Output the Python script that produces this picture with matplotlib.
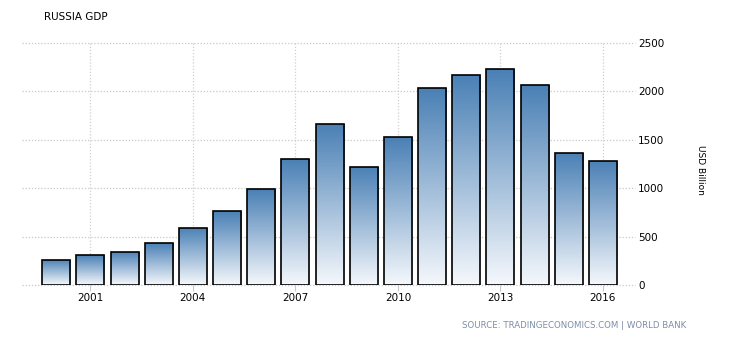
import numpy as np
import matplotlib.pyplot as plt
from matplotlib.colors import LinearSegmentedColormap
import matplotlib.transforms as mtransforms

years = np.arange(2000, 2017)
gdp = [260, 307, 345, 430, 591, 764, 990, 1300, 1661, 1223, 1525, 2032, 2170, 2231, 2064, 1366, 1283]
xticks = [2001, 2004, 2007, 2010, 2013, 2016]
yticks = [0, 500, 1000, 1500, 2000, 2500]

fig = plt.figure(figsize=(7.3, 3.4), dpi=100)
ax = fig.add_axes([22/730, 55/340, 598/730, 242/340])

cmap = LinearSegmentedColormap.from_list('grad', ['#f5f8fc', '#4a80b5'])
grad = np.linspace(0, 1, 256).reshape(-1, 1)

bars = ax.bar(years, gdp, width=0.82, facecolor='none', edgecolor='black', linewidth=1.2, zorder=3)
for b in bars:
    b.set_joinstyle('miter')
    x0, w, h = b.get_x(), b.get_width(), b.get_height()
    im = ax.imshow(grad, extent=[x0, x0 + w, 0, h], origin='lower', cmap=cmap,
                   aspect='auto', zorder=2)
    im.set_clip_path(b)

ax.set_xlim(1999.0, 2016.5)
ax.set_ylim(0, 2500)
for s in ax.spines.values():
    s.set_visible(False)

# dotted grid, horizontal lines run out to the right-side labels
trans = mtransforms.blended_transform_factory(ax.transAxes, ax.transData)
for y in yticks:
    ax.plot([0, 1.025], [y, y], transform=trans, color='#c8c8c8', lw=0.9,
            ls=(0, (1, 1.5)), clip_on=False, zorder=1)
for x in xticks:
    ax.axvline(x, color='#d0d0d0', lw=0.9, ls=(0, (1, 1.5)), zorder=1)

ax.set_xticks(xticks)
ax.tick_params(axis='x', length=4, color='#c8c8c8', labelsize=7.5, pad=2)
ax.yaxis.tick_right()
ax.set_yticks(yticks)
ax.tick_params(axis='y', length=0, labelsize=7.5, pad=13)

fig.text(44/730, 1 - 17/340, 'RUSSIA GDP', fontsize=7.5, va='center', ha='left')
fig.text(700/730, 170/340, 'USD Billion', fontsize=6.5, rotation=-90, va='center', ha='center')
fig.text(686/730, 1 - 326/340, 'SOURCE: TRADINGECONOMICS.COM | WORLD BANK',
         fontsize=6.2, color='#7d8ea8', ha='right', va='center')

fig.savefig('out.png', dpi=100)
